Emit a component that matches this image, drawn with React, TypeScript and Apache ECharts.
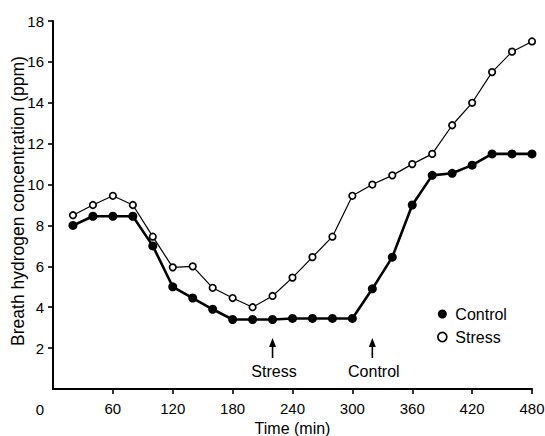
import React, { useEffect, useRef } from "react";
import * as echarts from "echarts";

const times = [20, 40, 60, 80, 100, 120, 140, 160, 180, 200, 220, 240, 260, 280, 300, 320, 340, 360, 380, 400, 420, 440, 460, 480];
const controlValues = [8.0, 8.45, 8.45, 8.45, 7.0, 5.0, 4.45, 3.9, 3.4, 3.4, 3.4, 3.45, 3.45, 3.45, 3.45, 4.9, 6.45, 9.0, 10.45, 10.55, 10.95, 11.5, 11.5, 11.5];
const stressValues = [8.5, 9.0, 9.45, 9.0, 7.45, 5.95, 6.0, 4.95, 4.45, 4.0, 4.55, 5.45, 6.45, 7.45, 9.45, 10.0, 10.45, 11.0, 11.5, 12.9, 14.0, 15.5, 16.5, 17.0];
const xTicks = [60, 120, 180, 240, 300, 360, 420, 480];
const yTicks = [2, 4, 6, 8, 10, 12, 14, 16, 18];
const annotations = [
  { label: "Stress", time: 220 },
  { label: "Control", time: 320 },
];
const xTitle = "Time (min)";
const yTitle = "Breath hydrogen concentration (ppm)";
const originLabel = "0";

const FONT = "'Liberation Sans', Arial, sans-serif";

export default function App() {
  const ref = useRef<HTMLDivElement>(null);

  useEffect(() => {
    if (!ref.current) return;
    const chart = echarts.init(ref.current, null, { renderer: "svg" });
    const axisCommon = {
      axisLine: { show: true, lineStyle: { color: "#000", width: 2 } },
      axisTick: { show: true, length: 5, lineStyle: { color: "#000", width: 1.6 } },
      splitLine: { show: false },
    };
    chart.setOption({
      animation: false,
      backgroundColor: "#fff",
      grid: { left: 53, right: 13, top: 21, bottom: 47, containLabel: false, outerBoundsMode: "none" },
      xAxis: {
        type: "value",
        min: 0,
        max: 480,
        interval: 60,
        name: xTitle,
        nameLocation: "middle",
        nameGap: 30,
        nameTextStyle: { color: "#000", fontSize: 16, fontFamily: FONT },
        ...axisCommon,
        axisTick: { ...axisCommon.axisTick, customValues: xTicks },
        axisLabel: { customValues: xTicks, margin: 12, color: "#000", fontSize: 15, fontFamily: FONT },
      },
      yAxis: {
        type: "value",
        min: 0,
        max: 18,
        interval: 2,
        ...axisCommon,
        axisTick: { ...axisCommon.axisTick, customValues: yTicks },
        axisLabel: { customValues: yTicks, margin: 9, color: "#000", fontSize: 15, fontFamily: FONT },
      },
      legend: {
        orient: "vertical",
        left: 432,
        top: 301,
        itemWidth: 16,
        itemHeight: 9,
        itemGap: 7,
        textStyle: { color: "#000", fontSize: 16, fontFamily: FONT },
        data: [
          { name: "Control", icon: "circle", itemStyle: { color: "#000", borderWidth: 0 } },
          { name: "Stress", icon: "circle", itemStyle: { color: "#fff", borderColor: "#000", borderWidth: 1.7 } },
        ],
      },
      series: [
        {
          name: "Control",
          type: "line",
          data: times.map((t, i) => [t, controlValues[i]]),
          symbol: "circle",
          symbolSize: 9,
          itemStyle: { color: "#000" },
          lineStyle: { color: "#000", width: 2.6 },
          z: 3,
        },
        {
          name: "Stress",
          type: "line",
          data: times.map((t, i) => [t, stressValues[i]]),
          symbol: "circle",
          symbolSize: 6.5,
          itemStyle: { color: "#fff", borderColor: "#000", borderWidth: 1.7 },
          lineStyle: { color: "#000", width: 1.2 },
          z: 4,
        },
      ],
    });

    const origin = chart.convertToPixel({ gridIndex: 0 }, [0, 0]) as number[];
    const graphics: any[] = [
      {
        type: "text",
        x: 18,
        y: 201,
        rotation: Math.PI / 2,
        style: { text: yTitle, fill: "#000", fontSize: 17.5, fontFamily: FONT, align: "center", verticalAlign: "middle" },
      },
      {
        type: "text",
        x: origin[0] - 13,
        y: origin[1] + 20,
        style: { text: originLabel, fill: "#000", fontSize: 15, fontFamily: FONT, align: "center", verticalAlign: "middle" },
      },
    ];
    annotations.forEach((a) => {
      const px = chart.convertToPixel({ xAxisIndex: 0 }, a.time) as number;
      graphics.push(
        { type: "line", shape: { x1: px, y1: 358, x2: px, y2: 344 }, style: { stroke: "#000", lineWidth: 1.6 } },
        { type: "polygon", shape: { points: [[px, 338], [px - 3.5, 347], [px + 3.5, 347]] }, style: { fill: "#000" } },
        {
          type: "text",
          x: px + 1.5,
          y: 371,
          style: { text: a.label, fill: "#000", fontSize: 16, fontFamily: FONT, align: "center", verticalAlign: "middle" },
        }
      );
    });
    chart.setOption({ graphic: graphics });

    return () => chart.dispose();
  }, []);

  return <div ref={ref} style={{ position: "absolute", left: 0, top: 0, width: 545, height: 436 }} />;
}
